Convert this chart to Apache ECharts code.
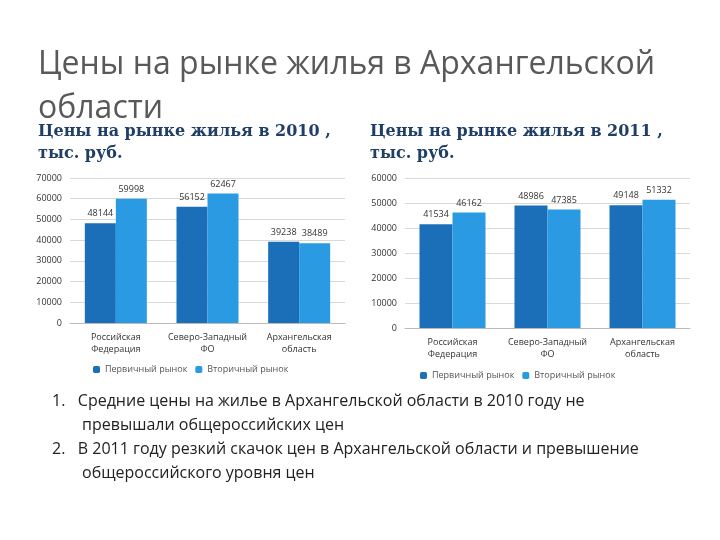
<!DOCTYPE html>
<html><head><meta charset="utf-8">
<script src="https://cdn.jsdelivr.net/npm/echarts@6/dist/echarts.min.js"></script>
<style>
body{margin:0;background:#fff;font-family:"Open Sans",sans-serif;}
#wrap{position:relative;width:720px;height:540px;}
#chart{position:absolute;left:0;top:0;width:720px;height:540px;}
.t{position:absolute;color:#595959;}
</style></head>
<body><div id="wrap">
<div id="chart"></div>
<div class="t" style="left:38px;top:40px;font-size:32px;line-height:44px;width:680px;">Цены на рынке жилья в Архангельской области</div>
<div class="t" style="left:38px;top:120px;font-size:16px;line-height:22px;font-weight:bold;color:#1f3f66;width:330px;font-family:'DejaVu Serif',serif;">Цены на рынке жилья в 2010 , тыс. руб.</div>
<div class="t" style="left:370px;top:120px;font-size:16px;line-height:22px;font-weight:bold;color:#1f3f66;width:300px;font-family:'DejaVu Serif',serif;">Цены на рынке жилья в 2011 , тыс. руб.</div>
<div class="t" style="left:52px;top:388px;font-size:16px;line-height:24px;color:#222;width:600px;">
<div style="padding-left:30px;text-indent:-30px;">1.&nbsp;&nbsp;&nbsp;Средние цены на жилье в Архангельской области в 2010 году не превышали общероссийских цен</div>
<div style="padding-left:30px;text-indent:-30px;">2.&nbsp;&nbsp;&nbsp;В 2011 году резкий скачок цен в Архангельской области и превышение общероссийского уровня цен</div>
</div>
</div>
<script>
var categories = ['Российская\nФедерация', 'Северо-Западный\nФО', 'Архангельская\nобласть'];
var primary2010 = [48144, 56152, 39238];
var secondary2010 = [59998, 62467, 38489];
var primary2011 = [41534, 48986, 49148];
var secondary2011 = [46162, 47385, 51332];
var seriesNames = ['Первичный рынок', 'Вторичный рынок'];

var chart = echarts.init(document.getElementById('chart'));
var lbl = {show: true, position: 'top', fontSize: 9, color: '#333'};
var axisX = function (i) {
    return {type: 'category', gridIndex: i, data: categories,
        axisLine: {lineStyle: {color: '#bbb'}}, axisTick: {show: false},
        axisLabel: {fontSize: 9, color: '#333', lineHeight: 12, interval: 0}};
};
var axisY = function (i, max) {
    return {type: 'value', gridIndex: i, min: 0, max: max, interval: 10000,
        axisLabel: {fontSize: 9, color: '#333', formatter: function (v) { return String(v); }},
        splitLine: {lineStyle: {color: '#d9d9d9'}}};
};
chart.setOption({
    color: ['#1b6fb8', '#2a9be3'],
    textStyle: {fontFamily: 'Open Sans'},
    grid: [
        {left: 70, top: 178, width: 275, height: 145},
        {left: 405, top: 178, width: 285, height: 150}
    ],
    xAxis: [axisX(0), axisX(1)],
    yAxis: [axisY(0, 70000), axisY(1, 60000)],
    legend: [
        {left: 88, top: 360, itemWidth: 7, itemHeight: 7, itemGap: 8,
            textStyle: {fontSize: 9}, data: seriesNames},
        {left: 415, top: 366, itemWidth: 7, itemHeight: 7, itemGap: 8,
            textStyle: {fontSize: 9}, data: seriesNames}
    ],
    series: [
        {name: seriesNames[0], type: 'bar', data: primary2010, barWidth: 31, barGap: '0%', label: lbl},
        {name: seriesNames[1], type: 'bar', data: secondary2010, barWidth: 31, label: lbl},
        {name: seriesNames[0], type: 'bar', xAxisIndex: 1, yAxisIndex: 1, data: primary2011, barWidth: 33, barGap: '0%', label: lbl},
        {name: seriesNames[1], type: 'bar', xAxisIndex: 1, yAxisIndex: 1, data: secondary2011, barWidth: 33, label: lbl}
    ]
});
</script>
</body></html>
